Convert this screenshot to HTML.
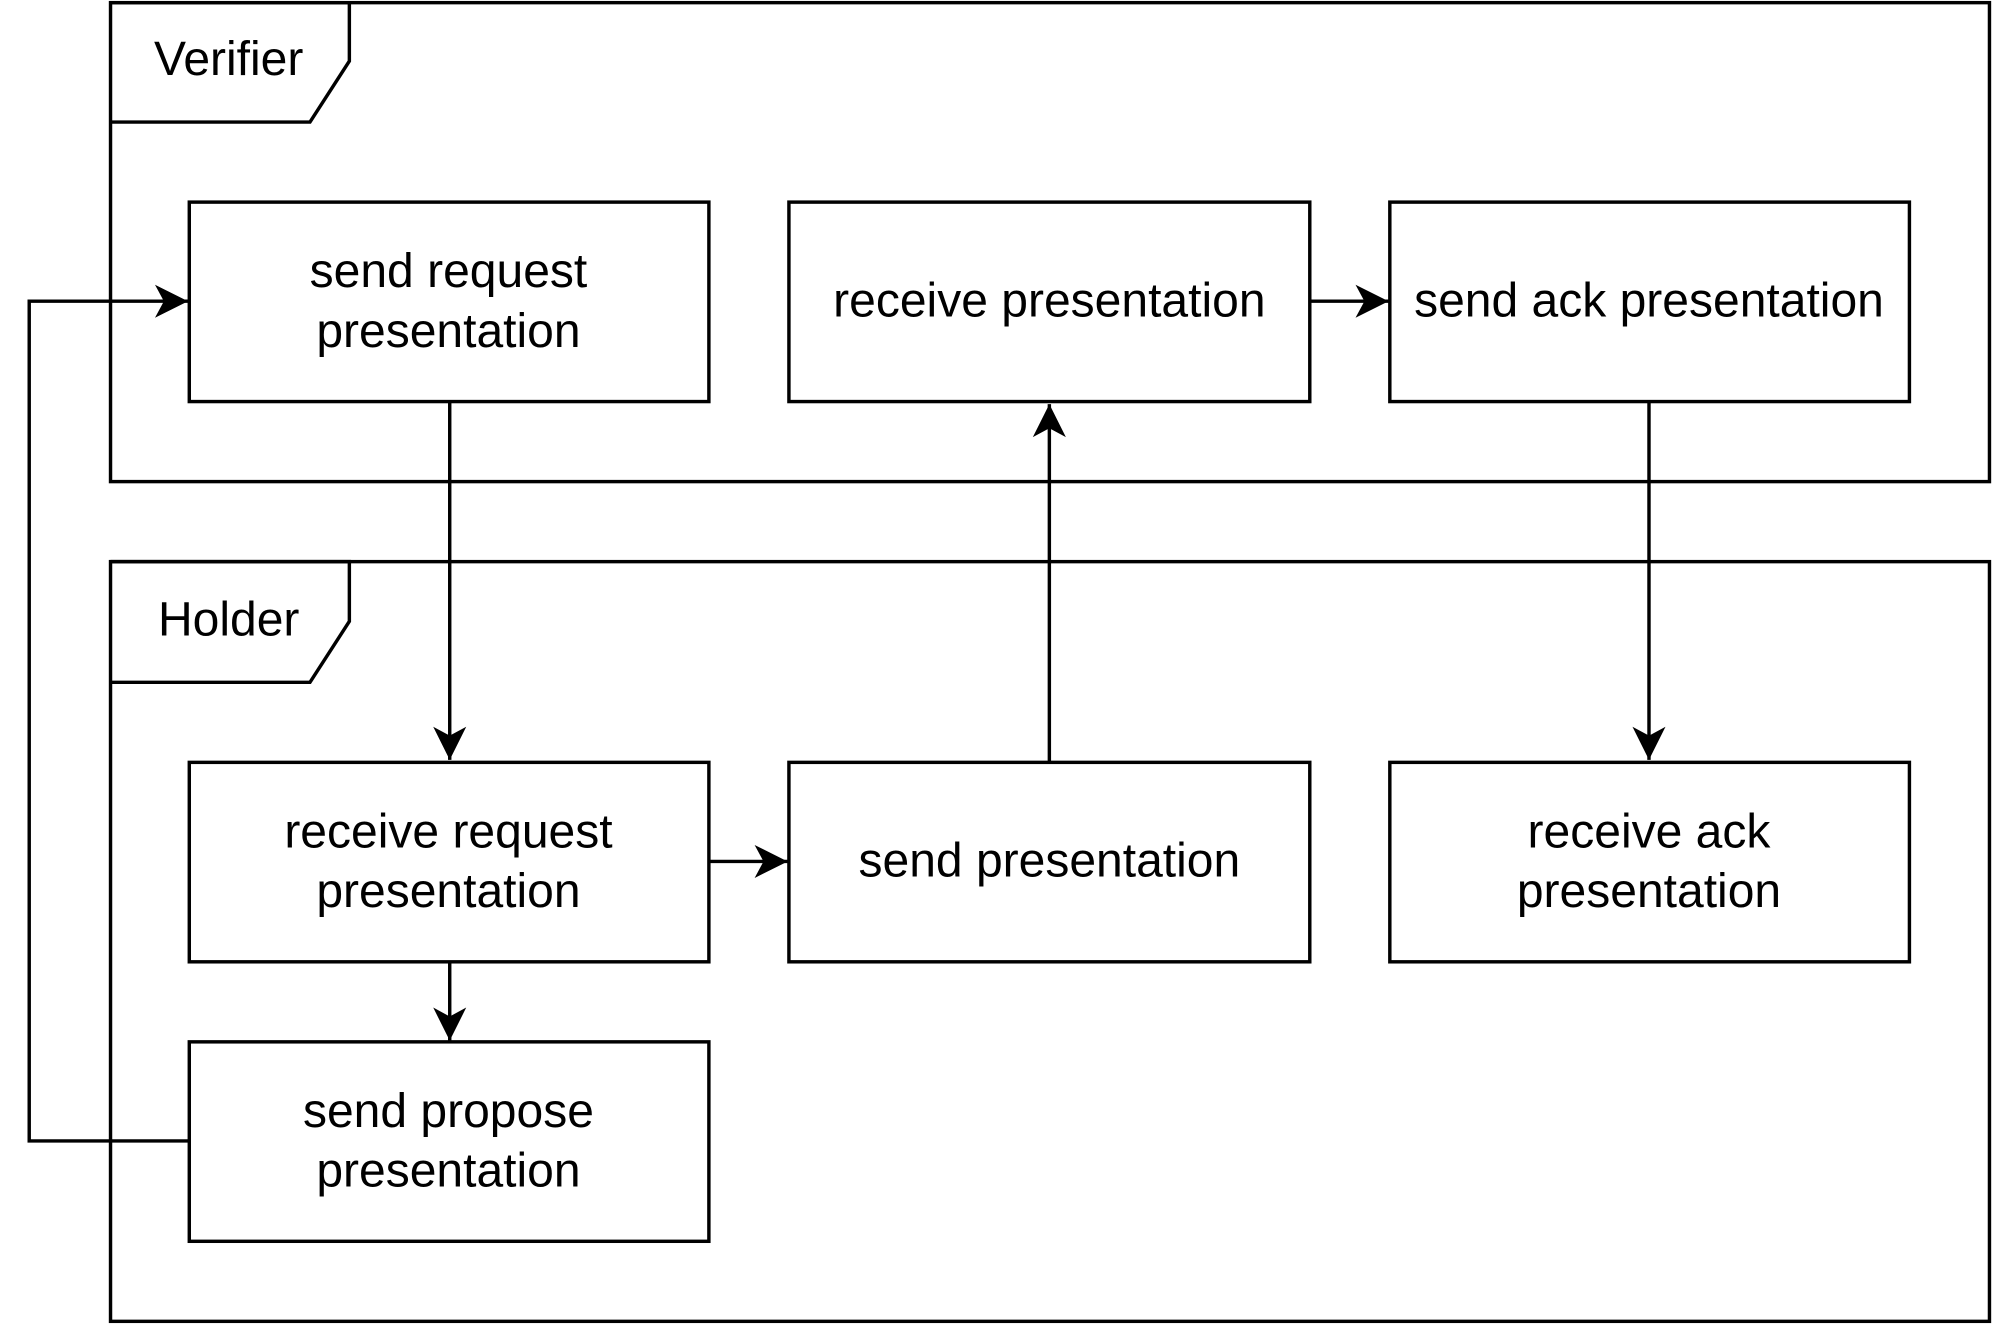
<!DOCTYPE html>
<html><head><meta charset="utf-8"><style>html,body{margin:0;padding:0;background:#fff}svg{display:block}</style></head>
<body>
<svg width="1992" height="1324" viewBox="0 0 1568 1042" xmlns="http://www.w3.org/2000/svg">
<defs>
<marker id="a" markerWidth="30" markerHeight="30" refX="28" refY="15" orient="auto" markerUnits="userSpaceOnUse">
<path d="M2,2 L28,15 L2,28 L9,15 Z" fill="#000"/>
</marker>
</defs>
<g fill="none" stroke="#000" stroke-width="2.7">
<rect x="87" y="2" width="1479" height="377"/>
<path d="M87,2 L275,2 L275,48 L244,96 L87,96"/>
<rect x="87" y="442" width="1479" height="598"/>
<path d="M87,442 L275,442 L275,489 L244,537 L87,537"/>
<rect x="149" y="159" width="409" height="157" fill="#fff"/>
<rect x="621" y="159" width="410" height="157" fill="#fff"/>
<rect x="1094" y="159" width="409" height="157" fill="#fff"/>
<rect x="149" y="600" width="409" height="157" fill="#fff"/>
<rect x="621" y="600" width="410" height="157" fill="#fff"/>
<rect x="1094" y="600" width="409" height="157" fill="#fff"/>
<rect x="149" y="820" width="409" height="157" fill="#fff"/>
<path d="M354,316 L354,598" marker-end="url(#a)"/>
<path d="M826,600 L826,318" marker-end="url(#a)"/>
<path d="M1031,237 L1093,237" marker-end="url(#a)"/>
<path d="M1298,316 L1298,598" marker-end="url(#a)"/>
<path d="M558,678 L620,678" marker-end="url(#a)"/>
<path d="M354,757 L354,819" marker-end="url(#a)"/>
<path d="M149,898 L23,898 L23,237 L148,237" marker-end="url(#a)"/>
</g>
<g font-family="Liberation Sans, sans-serif" font-size="37.8" text-anchor="middle" fill="#000">
<text x="180" y="59">Verifier</text>
<text x="180" y="500">Holder</text>
<text x="353" y="226">send request</text>
<text x="353" y="273">presentation</text>
<text x="826" y="249">receive presentation</text>
<text x="1298" y="249">send ack presentation</text>
<text x="353" y="667">receive request</text>
<text x="353" y="714">presentation</text>
<text x="826" y="690">send presentation</text>
<text x="1298" y="667">receive ack</text>
<text x="1298" y="714">presentation</text>
<text x="353" y="887">send propose</text>
<text x="353" y="934">presentation</text>
</g>
</svg>
</body></html>
